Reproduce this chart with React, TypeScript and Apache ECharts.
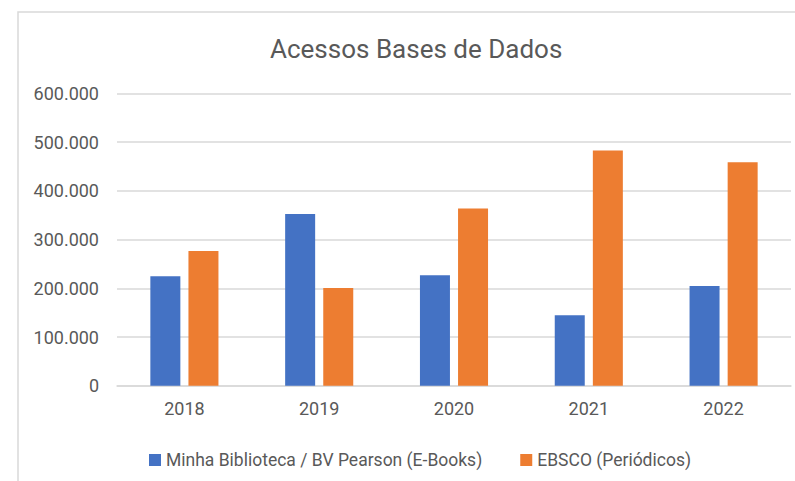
import React, { useEffect, useRef } from "react";
import * as echarts from "echarts";

const categories = ["2018", "2019", "2020", "2021", "2022"];
const seriesNames = ["Minha Biblioteca / BV Pearson (E-Books)", "EBSCO (Periódicos)"];
const ebooks = [224500, 352400, 226600, 144500, 204600];
const ebsco = [276500, 200500, 364000, 483000, 459000];
const yTicks = { min: 0, max: 600000, interval: 100000 };

const FONT = "Roboto, 'Open Sans', sans-serif";
const TEXT = "#595959";
const GRID = "#d9d9d9";

function fmt(v: number): string {
  return String(v).replace(/\B(?=(\d{3})+(?!\d))/g, ".");
}

export default function App() {
  const ref = useRef<HTMLDivElement>(null);
  useEffect(() => {
    document.body.style.margin = "0";
    const chart = echarts.init(ref.current!, undefined, { renderer: "svg" });
    chart.setOption({
      animation: false,
      backgroundColor: "#ffffff",
      textStyle: { fontFamily: FONT },
      title: {
        text: "Acessos Bases de Dados",
        left: 265,
        top: 31,
        textStyle: { fontFamily: FONT, fontSize: 26, fontWeight: "normal", color: TEXT },
      },
      graphic: [
        {
          type: "rect",
          shape: { x: 18, y: 12, width: 800, height: 500 },
          style: { fill: "none", stroke: GRID, lineWidth: 1.5 },
          silent: true,
          z: -1,
        },
      ],
      legend: {
        left: 144,
        top: 446,
        icon: "rect",
        itemWidth: 12,
        itemHeight: 12,
        itemGap: 38,
        textStyle: { fontFamily: FONT, fontSize: 17.5, color: TEXT },
        data: seriesNames,
      },
      grid: { left: 117, right: 4, top: 93.5, bottom: 95.3, containLabel: false },
      xAxis: {
        type: "category",
        data: categories,
        axisLine: { lineStyle: { color: GRID, width: 1.5 } },
        axisTick: { show: false },
        axisLabel: { margin: 14, fontFamily: FONT, fontSize: 18, color: TEXT },
      },
      yAxis: {
        type: "value",
        min: yTicks.min,
        max: yTicks.max,
        interval: yTicks.interval,
        axisLine: { show: false },
        axisTick: { show: false },
        splitLine: { lineStyle: { color: GRID, width: 1.5 } },
        axisLabel: { margin: 18, fontFamily: FONT, fontSize: 18, color: TEXT, formatter: (v: number) => fmt(v) },
      },
      series: [
        {
          name: seriesNames[0],
          type: "bar",
          data: ebooks,
          barWidth: 30,
          barGap: "27%",
          itemStyle: { color: "#4472C4" },
        },
        {
          name: seriesNames[1],
          type: "bar",
          data: ebsco,
          barWidth: 30,
          barGap: "27%",
          itemStyle: { color: "#ED7D31" },
        },
      ],
    });
    return () => chart.dispose();
  }, []);
  return <div ref={ref} style={{ width: 795, height: 481 }} />;
}
